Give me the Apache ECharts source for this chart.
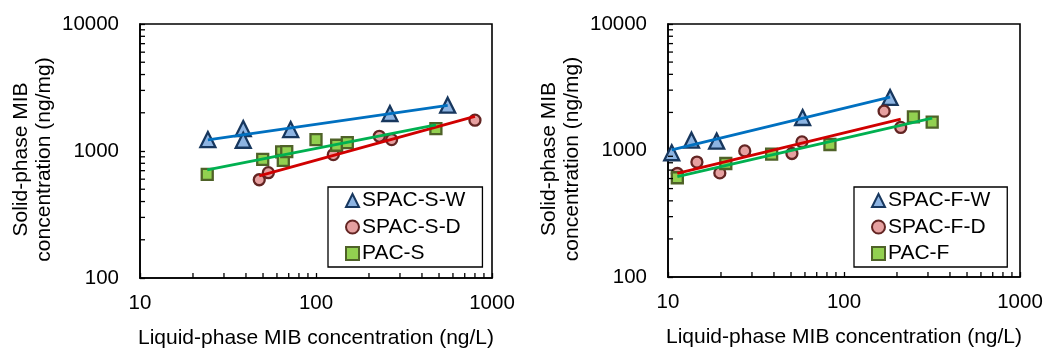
<!DOCTYPE html>
<html>
<head>
<meta charset="utf-8">
<script src="https://cdn.jsdelivr.net/npm/echarts@6/dist/echarts.min.js"></script>
<style>
html,body{margin:0;padding:0;background:#fff;}
#c{width:1047px;height:352px;}
</style>
</head>
<body>
<div id="c"></div>
<script>
// ---- data ----
const xTickLabels = ['10', '100', '1000'];
const yTickLabels = ['100', '1000', '10000'];
const xMinorTicks = [20, 30, 40, 50, 60, 70, 80, 90, 200, 300, 400, 500, 600, 700, 800, 900];
const yMinorTicks = [200, 300, 400, 500, 600, 700, 800, 900, 2000, 3000, 4000, 5000, 6000, 7000, 8000, 9000];

const leftNames = ['SPAC-S-W', 'SPAC-S-D', 'PAC-S'];
const rightNames = ['SPAC-F-W', 'SPAC-F-D', 'PAC-F'];

const spacSW_x = [24.3, 38.6, 38.6, 71.8, 263, 560];
const spacSW_y = [1230, 1503, 1215, 1476, 1973, 2296];
const spacSD_x = [47.6, 53.6, 125.4, 229, 269, 800];
const spacSD_y = [594, 675, 936, 1306, 1230, 1748];
const pacS_x = [24.1, 49.8, 63.8, 65.2, 68.2, 100, 131, 150.6, 480];
const pacS_y = [655, 860, 983, 845, 990, 1230, 1110, 1165, 1503];

const spacFW_x = [10.5, 13.6, 18.9, 58.2, 182.7];
const spacFW_y = [960, 1207, 1186, 1824, 2626];
const spacFD_x = [11.3, 14.6, 19.7, 27.3, 50.6, 57.7, 169, 210];
const spacFD_y = [658, 810, 665, 993, 947, 1170, 2047, 1521];
const pacF_x = [11.3, 21.3, 38.8, 83.2, 248, 317];
const pacF_y = [609, 789, 935, 1115, 1845, 1675];

// ---- helpers ----
const FONT = 'Liberation Sans, Arial, sans-serif';
const xMin = Number(xTickLabels[0]), xMax = Number(xTickLabels[xTickLabels.length - 1]);
const yMin = Number(yTickLabels[0]), yMax = Number(yTickLabels[yTickLabels.length - 1]);

function pairs(xs, ys) { return xs.map((x, i) => [x, ys[i]]); }
function powerFit(xs, ys) {
  const lx = xs.map(Math.log10), ly = ys.map(Math.log10);
  const n = lx.length;
  const mx = lx.reduce((a, b) => a + b, 0) / n, my = ly.reduce((a, b) => a + b, 0) / n;
  let sxy = 0, sxx = 0;
  for (let i = 0; i < n; i++) { sxy += (lx[i] - mx) * (ly[i] - my); sxx += (lx[i] - mx) * (lx[i] - mx); }
  const b = sxy / sxx, a = my - b * mx;
  const x0 = Math.min(...xs), x1 = Math.max(...xs);
  return [[x0, Math.pow(10, a + b * Math.log10(x0))], [x1, Math.pow(10, a + b * Math.log10(x1))]];
}

const styles = [
  { symbol: 'triangle', size: 15, fill: '#8DB4E2', border: '#17375E', line: '#0070C0' },
  { symbol: 'circle', size: 11, fill: '#E6A0A0', border: '#632523', line: '#D00000' },
  { symbol: 'rect', size: 11, fill: '#92D050', border: '#4F6228', line: '#00B050' }
];

function scatter(name, xs, ys, k, gi) {
  const s = styles[k];
  return {
    name: name, type: 'scatter', xAxisIndex: gi, yAxisIndex: gi,
    symbol: s.symbol, symbolSize: s.size, z: 3,
    itemStyle: { color: s.fill, borderColor: s.border, borderWidth: 2.3, opacity: 1 },
    data: pairs(xs, ys)
  };
}
function fitLine(name, xs, ys, k, gi) {
  return {
    name: name + ' fit', type: 'line', xAxisIndex: gi, yAxisIndex: gi,
    showSymbol: false, symbol: 'none', z: 4, silent: true,
    lineStyle: { color: styles[k].line, width: 2.8 },
    data: powerFit(xs, ys)
  };
}
function minorX(gi) {
  return {
    type: 'custom', xAxisIndex: gi, yAxisIndex: gi, silent: true, z: 5,
    data: xMinorTicks.map(v => [v, yMin]),
    renderItem: function (params, api) {
      const p = api.coord([api.value(0), api.value(1)]);
      return { type: 'line', shape: { x1: p[0], y1: p[1], x2: p[0], y2: p[1] - 5 }, style: { stroke: '#000', lineWidth: 1.3 } };
    }
  };
}
function minorY(gi) {
  return {
    type: 'custom', xAxisIndex: gi, yAxisIndex: gi, silent: true, z: 5,
    data: yMinorTicks.map(v => [xMin, v]),
    renderItem: function (params, api) {
      const p = api.coord([api.value(0), api.value(1)]);
      return { type: 'line', shape: { x1: p[0], y1: p[1], x2: p[0] + 5, y2: p[1] }, style: { stroke: '#000', lineWidth: 1.3 } };
    }
  };
}

function xAxis(gi) {
  return {
    type: 'log', logBase: 10, gridIndex: gi, min: xMin, max: xMax,
    name: 'Liquid-phase MIB concentration (ng/L)', nameLocation: 'middle', nameGap: 49,
    nameTextStyle: { fontFamily: FONT, fontSize: 21, color: '#000', lineHeight: 23 },
    axisLine: { lineStyle: { color: '#000', width: 1.6 } },
    axisTick: { inside: true, length: 5, lineStyle: { color: '#000', width: 1.3 } },
    axisLabel: { fontFamily: FONT, fontSize: 20.5, color: '#000', margin: 15,
      formatter: v => String(Math.round(v)) },
    splitLine: { show: false }, minorTick: { show: false }, minorSplitLine: { show: false }
  };
}
function yAxis(gi) {
  return {
    type: 'log', logBase: 10, gridIndex: gi, min: yMin, max: yMax,
    name: 'Solid-phase MIB\nconcentration (ng/mg)', nameLocation: 'middle', nameGap: 84,
    nameTextStyle: { fontFamily: FONT, fontSize: 21, color: '#000', lineHeight: 23, padding: [0, 17, 0, 0] },
    axisLine: { lineStyle: { color: '#000', width: 1.6 } },
    axisTick: { inside: true, length: 5, lineStyle: { color: '#000', width: 1.3 } },
    axisLabel: { fontFamily: FONT, fontSize: 20.5, color: '#000', margin: 21,
      formatter: v => String(Math.round(v)) },
    splitLine: { show: false }, minorTick: { show: false }, minorSplitLine: { show: false }
  };
}
function legend(names, left) {
  return {
    data: names.map((n, k) => ({ name: n, icon: styles[k].symbol })),
    orient: 'vertical', left: left, top: 187,
    itemWidth: 13, itemHeight: 13, itemGap: 5.5,
    padding: [3, 17, 3, 17],
    borderColor: '#000', borderWidth: 1.3, backgroundColor: '#fff',
    textStyle: { fontFamily: FONT, fontSize: 21, color: '#000', padding: [0, 0, 0, -2] },
    selectedMode: false
  };
}

const chart = echarts.init(document.getElementById('c'), null, { renderer: 'canvas' });
chart.setOption({
  animation: false,
  backgroundColor: '#fff',
  grid: [
    { left: 140, top: 24, width: 352, height: 254, outerBoundsMode: 'none', containLabel: false, show: true, borderColor: '#000', borderWidth: 1.6, backgroundColor: 'transparent' },
    { left: 668, top: 24, width: 352, height: 253, outerBoundsMode: 'none', containLabel: false, show: true, borderColor: '#000', borderWidth: 1.6, backgroundColor: 'transparent' }
  ],
  xAxis: [xAxis(0), xAxis(1)],
  yAxis: [yAxis(0), yAxis(1)],
  legend: [legend(leftNames, 328), legend(rightNames, 854)],
  series: [
    scatter(leftNames[0], spacSW_x, spacSW_y, 0, 0),
    scatter(leftNames[1], spacSD_x, spacSD_y, 1, 0),
    scatter(leftNames[2], pacS_x, pacS_y, 2, 0),
    fitLine(leftNames[0], spacSW_x, spacSW_y, 0, 0),
    fitLine(leftNames[1], spacSD_x, spacSD_y, 1, 0),
    fitLine(leftNames[2], pacS_x, pacS_y, 2, 0),
    scatter(rightNames[0], spacFW_x, spacFW_y, 0, 1),
    scatter(rightNames[1], spacFD_x, spacFD_y, 1, 1),
    scatter(rightNames[2], pacF_x, pacF_y, 2, 1),
    fitLine(rightNames[0], spacFW_x, spacFW_y, 0, 1),
    fitLine(rightNames[1], spacFD_x, spacFD_y, 1, 1),
    fitLine(rightNames[2], pacF_x, pacF_y, 2, 1),
    minorX(0), minorY(0), minorX(1), minorY(1)
  ]
});
</script>
</body>
</html>
